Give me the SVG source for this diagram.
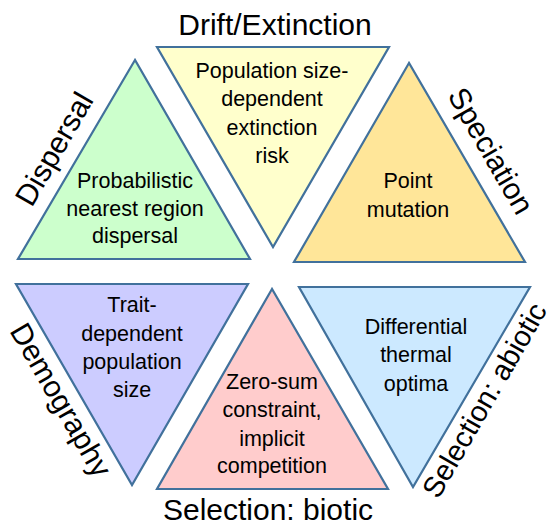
<svg xmlns="http://www.w3.org/2000/svg" width="552" height="528" viewBox="0 0 552 528">
<style>
.tri{stroke:#41719c;stroke-width:2.2;stroke-linejoin:miter}
.in{font-family:"Liberation Sans",Arial,sans-serif;font-size:21.5px;fill:#000;text-anchor:middle}
.lab{font-family:"Liberation Sans",Arial,sans-serif;font-size:30px;fill:#000;text-anchor:middle}
</style>
<rect width="552" height="528" fill="#fff"/>
<g id="dispersal">
<polygon class="tri" fill="#ccffcc" points="135,60 18,259 250,259"/>
<text class="in" x="135" y="188">Probabilistic</text>
<text class="in" x="135" y="216">nearest region</text>
<text class="in" x="135" y="243">dispersal</text>
<text class="lab" transform="translate(63,154) rotate(-60)">Dispersal</text>
</g>
<g id="drift">
<polygon class="tri" fill="#ffffcc" points="157,47 389,47 273,247"/>
<text class="in" x="272" y="78">Population size-</text>
<text class="in" x="272" y="106">dependent</text>
<text class="in" x="272" y="135">extinction</text>
<text class="in" x="272" y="163">risk</text>
<text class="lab" x="275" y="35">Drift/Extinction</text>
</g>
<g id="speciation">
<polygon class="tri" fill="#ffe699" points="409,63 294,262 525,262"/>
<text class="in" x="408" y="188">Point</text>
<text class="in" x="408" y="217">mutation</text>
<text class="lab" transform="translate(482,156) rotate(60)">Speciation</text>
</g>
<g id="demography">
<polygon class="tri" fill="#ccccff" points="16,284 248,284 132,485"/>
<text class="in" x="132" y="312">Trait-</text>
<text class="in" x="132" y="341">dependent</text>
<text class="in" x="132" y="369">population</text>
<text class="in" x="132" y="397">size</text>
<text class="lab" transform="translate(52,405) rotate(60)">Demography</text>
</g>
<g id="biotic">
<polygon class="tri" fill="#ffcccc" points="272,289 157,489 388,489"/>
<text class="in" x="272" y="389">Zero-sum</text>
<text class="in" x="272" y="417">constraint,</text>
<text class="in" x="272" y="446">implicit</text>
<text class="in" x="272" y="473">competition</text>
<text class="lab" x="268" y="520">Selection: biotic</text>
</g>
<g id="abiotic">
<polygon class="tri" fill="#cce9ff" points="299,287 530,287 413,487"/>
<text class="in" x="416" y="334">Differential</text>
<text class="in" x="416" y="362">thermal</text>
<text class="in" x="416" y="391">optima</text>
<text class="lab" style="font-size:29px" transform="translate(493,405) rotate(-60)">Selection: abiotic</text>
</g>
<g id="connectors"></g>
</svg>
